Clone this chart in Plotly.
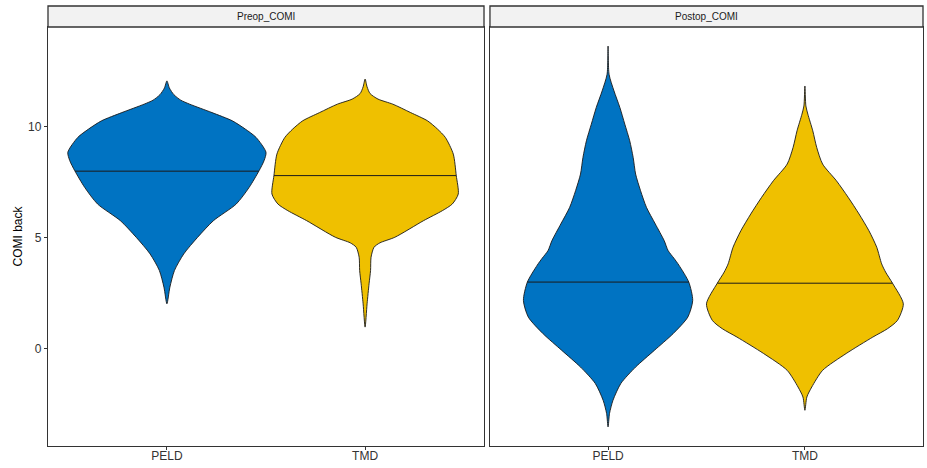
import numpy as np
import plotly.graph_objects as go

# ---- data -------------------------------------------------------------
panels = ["Preop_COMI", "Postop_COMI"]
groups = ["PELD", "TMD"]
group_colors = ["#0073C2", "#EFC000"]
y_ticks = [0, 5, 10]
y_title = "COMI back"

# Density outlines: COMI score level and scaled violin width
# (1 = widest violin within the panel)
preop_peld_y = [2.02, 2.77, 3.52, 4.27, 5.02, 5.77, 6.52, 7.27, 8.02, 8.47,
                8.85, 9.52, 9.9, 10.27, 10.64, 11.02, 11.2, 11.45, 11.75, 12.07]
preop_peld_w = [0.0, 0.03, 0.076, 0.17, 0.31, 0.47, 0.70, 0.83, 0.93, 0.98,
                1.0, 0.90, 0.79, 0.66, 0.455, 0.23, 0.14, 0.07, 0.025, 0.0]

preop_tmd_y = [0.97, 2.02, 2.92, 3.52, 4.12, 4.57, 4.77, 5.02, 5.77, 6.22,
               6.52, 6.97, 7.8, 8.77, 9.52, 9.9, 10.27, 10.64, 11.02, 11.25,
               11.5, 11.8, 12.15]
preop_tmd_w = [0.0, 0.02, 0.04, 0.055, 0.06, 0.09, 0.15, 0.30, 0.59, 0.78,
               0.88, 0.94, 0.92, 0.89, 0.81, 0.73, 0.63, 0.46, 0.28, 0.13,
               0.05, 0.02, 0.0]

postop_peld_y = [-3.53, -2.92, -2.33, -1.57, -0.83, -0.08, 0.67, 1.42, 2.17,
                 3.0, 3.76, 4.07, 4.42, 4.87, 5.62, 6.37, 7.12, 7.87, 8.62,
                 9.37, 10.12, 10.87, 11.62, 12.37, 13.64]
postop_peld_w = [0.0, 0.015, 0.05, 0.13, 0.28, 0.47, 0.66, 0.81, 0.86,
                 0.82, 0.72, 0.67, 0.61, 0.57, 0.48, 0.39, 0.33, 0.28, 0.255,
                 0.22, 0.17, 0.12, 0.06, 0.01, 0.0]

postop_tmd_y = [-2.78, -2.18, -1.73, -0.98, -0.22, 0.52, 0.9, 1.27, 2.02,
                2.95, 3.45, 3.82, 4.57, 5.32, 6.07, 6.82, 7.57, 8.32, 9.07,
                9.82, 10.57, 10.94, 11.84]
postop_tmd_w = [0.0, 0.02, 0.07, 0.18, 0.42, 0.69, 0.84, 0.94, 1.0,
                0.89, 0.82, 0.78, 0.73, 0.65, 0.55, 0.44, 0.32, 0.18, 0.12,
                0.08, 0.03, 0.01, 0.0]

preop_medians = [8.0, 7.8]
postop_medians = [3.0, 2.95]

# ---- layout constants -------------------------------------------------
FONT = "Liberation Sans, Arial, sans-serif"
LINE = "#333333"
OUTLINE = "#1a1a1a"
VIOLIN_WIDTH = 1.0
panel_domains = [[0.0, 0.4983], [0.5051, 1.0]]
panel_top = 0.9523

fig = go.Figure()

panel_data = [
    [(preop_peld_y, preop_peld_w), (preop_tmd_y, preop_tmd_w)],
    [(postop_peld_y, postop_peld_w), (postop_tmd_y, postop_tmd_w)],
]
panel_medians = [preop_medians, postop_medians]

for p, (violins, medians) in enumerate(zip(panel_data, panel_medians)):
    xa = "x" if p == 0 else "x2"
    ya = "y" if p == 0 else "y2"
    for g, ((ys, ws), med) in enumerate(zip(violins, medians)):
        pos = g + 1
        ys = np.asarray(ys, dtype=float)
        half = 0.5 * VIOLIN_WIDTH * np.asarray(ws, dtype=float)
        # right side bottom -> top, then left side top -> bottom
        x_path = np.concatenate([pos + half, (pos - half)[-2::-1]])
        y_path = np.concatenate([ys, ys[-2::-1]])
        fig.add_trace(go.Scatter(
            x=x_path, y=y_path, xaxis=xa, yaxis=ya,
            mode="lines", fill="toself", fillcolor=group_colors[g],
            line=dict(color=OUTLINE, width=0.9, shape="spline", smoothing=0.7),
            hoverinfo="skip", showlegend=False,
        ))
        hw = np.interp(med, ys, half)
        fig.add_trace(go.Scatter(
            x=[pos - hw, pos + hw], y=[med, med], xaxis=xa, yaxis=ya,
            mode="lines", line=dict(color=OUTLINE, width=1),
            hoverinfo="skip", showlegend=False,
        ))

axis_common = dict(
    showgrid=False, zeroline=False, showline=True, mirror=True,
    linecolor=LINE, linewidth=1.3, automargin=False,
)
xaxis_common = dict(
    axis_common, range=[0.4, 2.6], tickmode="array",
    tickvals=[1, 2], ticktext=groups, ticks="outside", ticklen=3,
    tickcolor=LINE, tickwidth=1, ticklabelstandoff=-5,
    tickfont=dict(family=FONT, size=12, color="#333333"),
)

fig.update_layout(
    width=927, height=468,
    margin=dict(l=48, r=4, t=6, b=22),
    paper_bgcolor="white", plot_bgcolor="white",
    xaxis=dict(xaxis_common, domain=panel_domains[0], anchor="y"),
    xaxis2=dict(xaxis_common, domain=panel_domains[1], anchor="y2"),
    yaxis=dict(
        axis_common, domain=[0, panel_top], range=[-4.39, 14.5],
        tickmode="array", tickvals=y_ticks, ticks="outside", ticklen=3,
        tickcolor=LINE, tickwidth=1,
        tickfont=dict(family=FONT, size=12, color="#333333"),
        title=dict(text=y_title, font=dict(family=FONT, size=12, color="black"),
                   standoff=2),
        anchor="x",
    ),
    yaxis2=dict(
        axis_common, domain=[0, panel_top], range=[-4.39, 14.5],
        showticklabels=False, ticks="", matches="y", anchor="x2",
    ),
)

# facet strips
for dom, label in zip(panel_domains, panels):
    fig.add_shape(
        type="rect", xref="paper", yref="paper",
        x0=dom[0], x1=dom[1], y0=panel_top, y1=1.0,
        fillcolor="#F2F2F2", line=dict(color=LINE, width=1.3), layer="above",
    )
    fig.add_annotation(
        x=(dom[0] + dom[1]) / 2, y=(panel_top + 1.0) / 2,
        xref="paper", yref="paper", text=label, showarrow=False,
        font=dict(family=FONT, size=10, color="#1A1A1A"),
        xanchor="center", yanchor="middle",
    )

fig.write_html("out.html")
